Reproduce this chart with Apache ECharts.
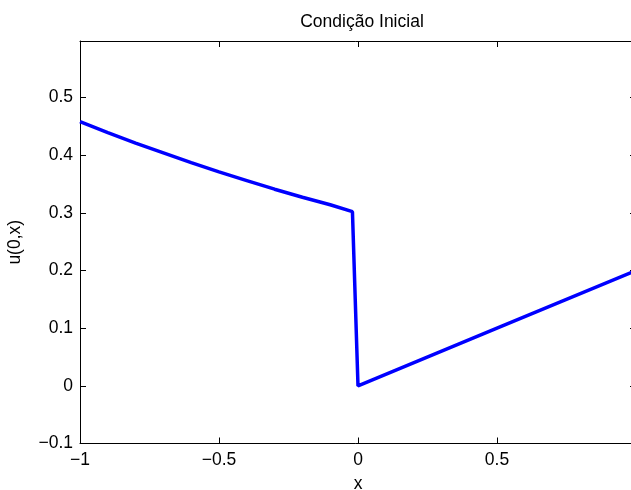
<!DOCTYPE html>
<html>
<head>
<meta charset="utf-8">
<script src="https://cdn.jsdelivr.net/npm/echarts@6/dist/echarts.min.js"></script>
<style>html,body{margin:0;padding:0;background:#fff;}#c{width:631px;height:490px;}</style>
</head>
<body>
<div id="c"></div>
<script>
const titleText = 'Condição Inicial';
const xName = 'x';
const yName = 'u(0,x)';
const xValues = [-1, -0.9, -0.8, -0.7, -0.6, -0.5, -0.4, -0.3, -0.2, -0.1, -0.02, 0, 0.5, 1];
const uValues = [0.458, 0.439, 0.421, 0.404, 0.387, 0.371, 0.356, 0.341, 0.327, 0.314, 0.302, 0, 0.1, 0.2];
const xTicks = [-1, -0.5, 0, 0.5, 1];
const yTicks = [-0.1, 0, 0.1, 0.2, 0.3, 0.4, 0.5];

const font = 'Liberation Sans, Arial, Helvetica, sans-serif';
const fs = 17.5;
function isTick(v, list) { return list.some(t => Math.abs(t - v) < 1e-6); }
function fmt(v) {
  const r = Math.round(v * 10) / 10;
  return (r < 0 ? '\u2212' : '') + String(Math.abs(r));
}
const chart = echarts.init(document.getElementById('c'), null, {renderer: 'canvas'});
const axisLineStyle = {show: true, onZero: false, lineStyle: {color: '#000', width: 1}};
const tickStyle = {show: true, inside: true, length: 6, lineStyle: {color: '#000', width: 1}};
chart.setOption({
  animation: false,
  backgroundColor: '#fff',
  title: {
    text: titleText, left: 357, top: 8, textAlign: 'center',
    textStyle: {fontFamily: font, fontSize: fs, fontWeight: 'normal', color: '#000'}
  },
  grid: {left: 80, top: 41, right: -5, bottom: 46.5, containLabel: false, outerBoundsMode: 'none'},
  xAxis: [{
    type: 'value', min: -1, max: 1, interval: 0.5, position: 'bottom',
    name: xName, nameLocation: 'middle', nameGap: 32,
    nameTextStyle: {fontFamily: font, fontSize: fs, color: '#000'},
    axisLine: axisLineStyle, axisTick: tickStyle, splitLine: {show: false},
    axisLabel: {fontFamily: font, fontSize: fs, color: '#000', margin: 8,
      formatter: v => isTick(v, xTicks) ? fmt(v) : ''}
  }, {
    type: 'value', min: -1, max: 1, interval: 0.5, position: 'top',
    axisLine: axisLineStyle, axisTick: tickStyle, splitLine: {show: false},
    axisLabel: {show: false}
  }],
  yAxis: [{
    type: 'value', min: -0.1, max: 0.598, interval: 0.1, position: 'left',
    name: yName, nameLocation: 'middle', nameGap: 56, nameRotate: 90,
    nameTextStyle: {fontFamily: font, fontSize: fs, color: '#000'},
    axisLine: axisLineStyle, axisTick: tickStyle, splitLine: {show: false},
    axisLabel: {fontFamily: font, fontSize: fs, color: '#000', margin: 7,
      formatter: v => isTick(v, yTicks) ? fmt(v) : ''}
  }, {
    type: 'value', min: -0.1, max: 0.598, interval: 0.1, position: 'right',
    axisLine: axisLineStyle, axisTick: tickStyle, splitLine: {show: false},
    axisLabel: {show: false}
  }],
  series: [{
    type: 'line', xAxisIndex: 0, yAxisIndex: 0,
    data: xValues.map((x, i) => [x, uValues[i]]),
    showSymbol: false, smooth: false, clip: true,
    lineStyle: {color: '#0000ff', width: 3.5}
  }]
});
</script>
</body>
</html>
